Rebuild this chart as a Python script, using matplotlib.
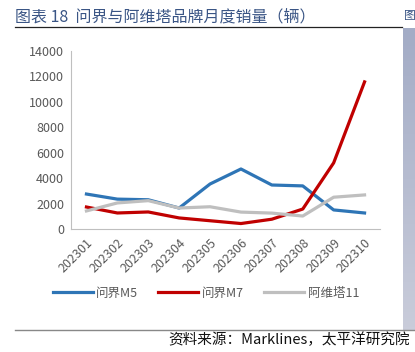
import numpy as np
import matplotlib
matplotlib.use("Agg")
import matplotlib.pyplot as plt
from matplotlib.lines import Line2D

plt.rcParams['font.family'] = ['Noto Sans CJK SC', 'DejaVu Sans']

months = ['202301', '202302', '202303', '202304', '202305',
          '202306', '202307', '202308', '202309', '202310']
m5 = [2750, 2350, 2300, 1650, 3540, 4720, 3460, 3390, 1500, 1260]
m7 = [1730, 1260, 1340, 870, 650, 430, 770, 1570, 5200, 11570]
avatr11 = [1420, 2050, 2230, 1650, 1750, 1330, 1250, 1020, 2500, 2680]

W, H = 415, 352
fig = plt.figure(figsize=(W / 100, H / 100), dpi=100)

# right-hand cropped strip of the next chart
strip = fig.add_axes([403 / W, 1 - 330 / H, 12 / W, 302 / H])
grad = np.linspace(0, 1, 100).reshape(-1, 1)
strip.imshow(grad, aspect='auto', cmap=matplotlib.colors.LinearSegmentedColormap.from_list(
    'g', ['#a3acc6', '#c9ccda']), extent=[0, 1, 0, 1])
strip.axis('off')

fig.text(15 / W, 1 - 17 / H, '图表 18  问界与阿维塔品牌月度销量（辆）', fontsize=11.5,
         color='#3a5585', va='center', ha='left')
fig.text(404 / W, 1 - 16 / H, '图', fontsize=8.5, color='#3a5585', va='center', ha='left')
fig.add_artist(Line2D([15 / W, 402 / W], [1 - 27 / H, 1 - 27 / H], color='#222222', lw=0.9))
fig.add_artist(Line2D([15 / W, 1], [1 - 330 / H, 1 - 330 / H], color='#888888', lw=1.0))
fig.text(410 / W, 1 - 340 / H, '资料来源：Marklines，太平洋研究院', fontsize=10.5,
         color='#111111', va='center', ha='right')

ax = fig.add_axes([71 / W, 1 - 229 / H, (380 - 71) / W, (229 - 51) / H])
x = np.arange(len(months))
ax.plot(x, m5, color='#2e75b6', lw=2.3, label='问界M5')
ax.plot(x, m7, color='#c00000', lw=2.3, label='问界M7')
ax.plot(x, avatr11, color='#bfbfbf', lw=2.3, label='阿维塔11')

ax.set_xlim(-0.5, len(months) - 0.5)
ax.set_ylim(0, 14000)
ax.set_yticks(range(0, 14001, 2000))
ax.set_xticks(x)
ax.set_xticklabels(months, rotation=45, ha='right', rotation_mode='anchor')
ax.tick_params(axis='both', length=0, labelsize=9, colors='#595959', pad=5)
for s in ['top', 'right']:
    ax.spines[s].set_visible(False)
for s in ['left', 'bottom']:
    ax.spines[s].set_color('#bfbfbf')

ax.legend(loc='center', bbox_to_anchor=(206 / W, 1 - 293 / H), bbox_transform=fig.transFigure,
          ncol=3, frameon=False, fontsize=9, handlelength=3.2, columnspacing=1.6,
          handletextpad=0.3, labelcolor='#595959')

fig.savefig('out.png', dpi=100)
